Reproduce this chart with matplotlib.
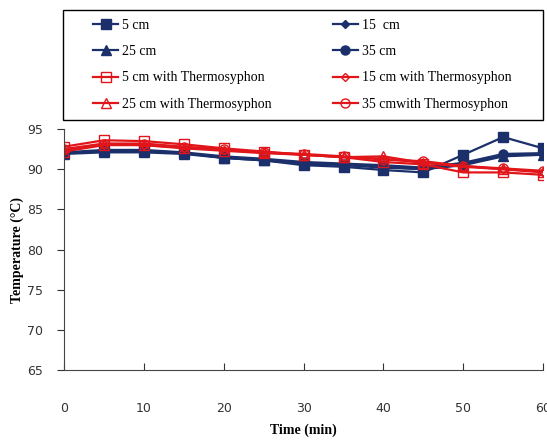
import matplotlib.pyplot as plt
from matplotlib.patches import Rectangle

# tempo (min)
time = [0, 5, 10, 15, 20, 25, 30, 35, 40, 45, 50, 55, 60]

# sem termossifao
cm5 = [92.0, 92.3, 92.3, 92.0, 91.4, 91.1, 90.5, 90.3, 89.9, 89.6, 91.8, 94.0, 92.6]
cm15 = [92.0, 92.2, 92.2, 92.0, 91.5, 91.2, 90.8, 90.6, 90.3, 90.0, 90.6, 91.7, 91.9]
cm25 = [91.9, 92.1, 92.1, 91.9, 91.4, 91.1, 90.7, 90.5, 90.2, 90.0, 90.5, 91.6, 91.8]
cm35 = [92.1, 92.4, 92.4, 92.1, 91.6, 91.3, 90.9, 90.7, 90.5, 90.2, 90.8, 91.9, 92.0]

# com termossifao
cm5_t = [92.8, 93.6, 93.5, 93.1, 92.6, 92.2, 91.8, 91.5, 90.9, 90.6, 89.6, 89.6, 89.3]
cm15_t = [92.3, 93.1, 93.0, 92.7, 92.4, 92.1, 91.8, 91.5, 91.3, 90.8, 90.3, 90.0, 89.6]
cm25_t = [92.2, 93.0, 93.0, 92.6, 92.3, 92.0, 91.8, 91.5, 91.6, 90.8, 90.4, 90.0, 89.7]
cm35_t = [92.5, 93.2, 93.2, 92.8, 92.5, 92.1, 91.9, 91.6, 91.2, 91.0, 90.4, 90.1, 89.8]

azul = "#1b2f6b"
vermelho = "#e0161b"

fig = plt.figure(figsize=(5.47, 4.45), dpi=100)
ax = fig.add_axes([0.117, 0.1685, 0.876, 0.5415])

h = {}
h["5 cm"], = ax.plot(time, cm5, color=azul, lw=1.6, marker="s", ms=6.5)
h["15  cm"], = ax.plot(time, cm15, color=azul, lw=1.6, marker="D", ms=4.5)
h["25 cm"], = ax.plot(time, cm25, color=azul, lw=1.6, marker="^", ms=6.5)
h["35 cm"], = ax.plot(time, cm35, color=azul, lw=1.6, marker="o", ms=6.5)
h["5 cm with Thermosyphon"], = ax.plot(time, cm5_t, color=vermelho, lw=1.6, marker="s", ms=6.5, mfc="none")
h["15 cm with Thermosyphon"], = ax.plot(time, cm15_t, color=vermelho, lw=1.6, marker="D", ms=4.5, mfc="none")
h["25 cm with Thermosyphon"], = ax.plot(time, cm25_t, color=vermelho, lw=1.6, marker="^", ms=6.5, mfc="none")
h["35 cmwith Thermosyphon"], = ax.plot(time, cm35_t, color=vermelho, lw=1.6, marker="o", ms=6.5, mfc="none")

ax.set_xlim(0, 60)
ax.set_ylim(65, 95)
ax.set_xticks(range(0, 61, 10))
ax.set_yticks(range(65, 96, 5))
ax.spines["top"].set_visible(False)
ax.spines["right"].set_visible(False)
ax.spines["left"].set_color("#444444")
ax.spines["bottom"].set_color("#444444")
ax.tick_params(axis="x", direction="in", length=5, pad=23, labelsize=9, colors="#333333")
ax.tick_params(axis="y", direction="out", length=5, pad=10, labelsize=9, colors="#333333")

ax.set_xlabel("Time (min)", family="Liberation Serif", fontweight="bold", fontsize=10, labelpad=6)
ax.set_ylabel("Temperature (°C)", family="Liberation Serif", fontweight="bold", fontsize=10, labelpad=2)

# ordem das colunas da legenda
ordem = ["5 cm", "25 cm", "5 cm with Thermosyphon", "25 cm with Thermosyphon",
         "15  cm", "35 cm", "15 cm with Thermosyphon", "35 cmwith Thermosyphon"]
leg = fig.legend([h[k] for k in ordem], ordem, ncol=2, loc="upper left",
                 bbox_to_anchor=(93 / 547, 1 - 19 / 445), frameon=False,
                 prop={"family": "Liberation Serif", "size": 10},
                 handlelength=1.8, handletextpad=0.3, labelspacing=0.95,
                 columnspacing=4.4, borderaxespad=0, borderpad=0)

# moldura da legenda
fig.add_artist(Rectangle((63 / 547, 1 - 120 / 445), 480 / 547, 110 / 445,
                         transform=fig.transFigure, fill=False, edgecolor="black", lw=1))

fig.savefig("out.png", dpi=100)
